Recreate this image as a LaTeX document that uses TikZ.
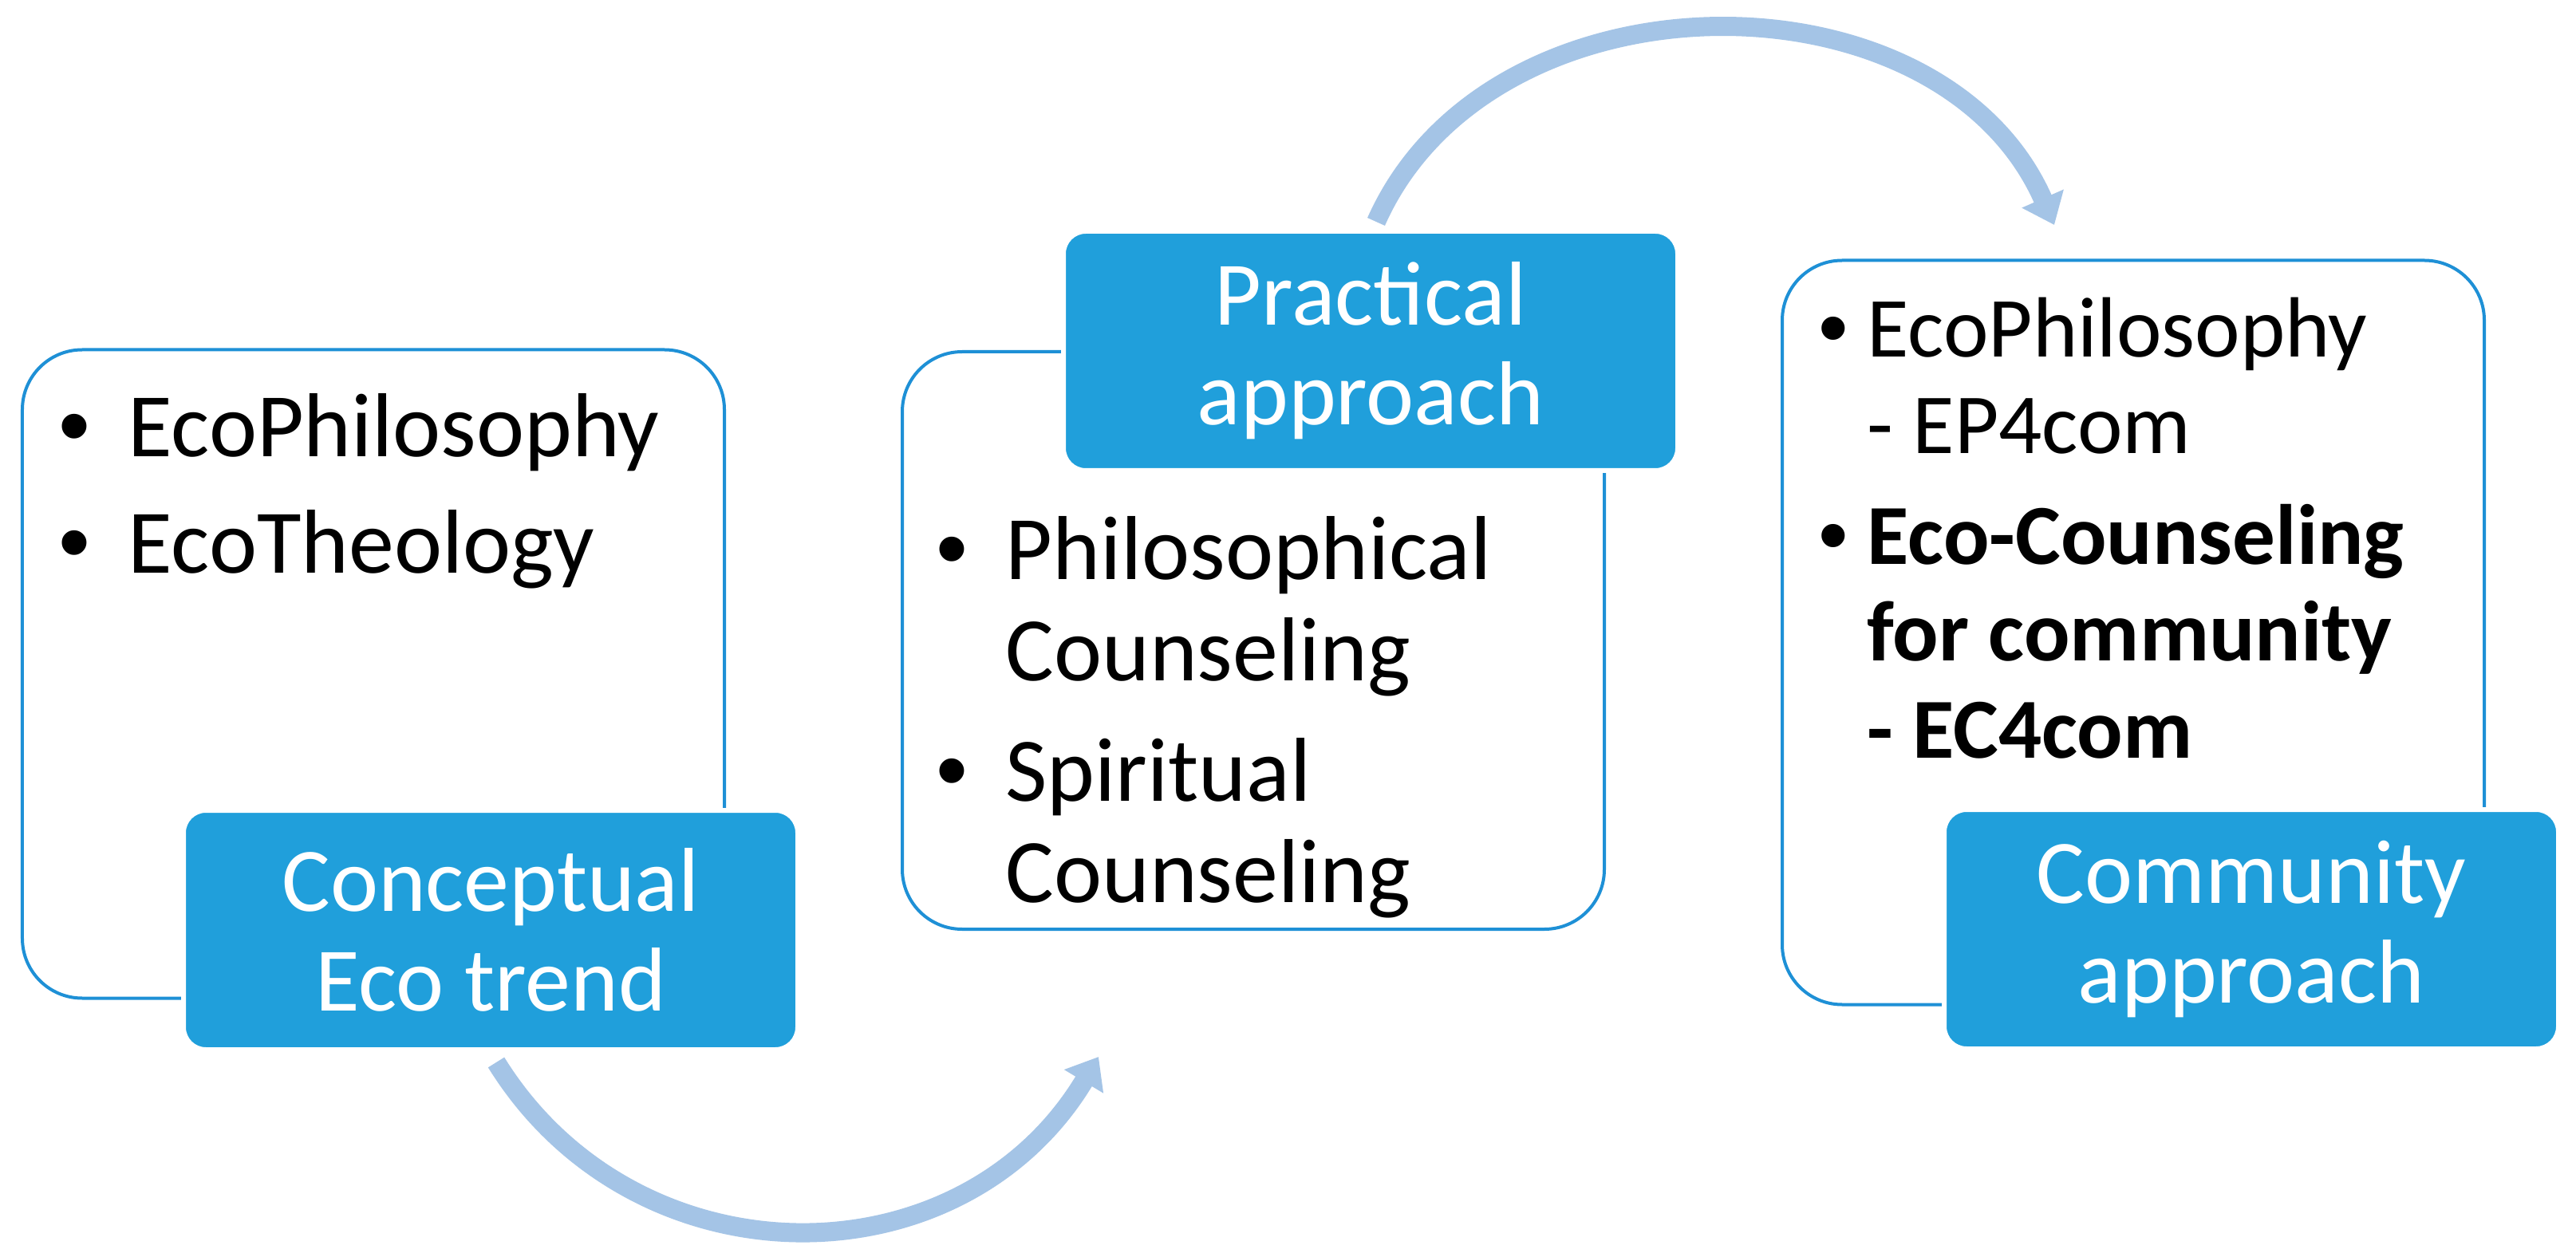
\documentclass[tikz,border=0pt]{standalone}
\usepackage{fontspec}
\setmainfont{Carlito}
\newfontfamily\dotfont{Liberation Sans}
\usepackage{tikz}
\usetikzlibrary{arrows.meta,positioning}
\usepackage{xcolor}
\definecolor{ecoblue}{RGB}{32,159,219}
\definecolor{ecoedge}{RGB}{30,144,214}
\definecolor{ecoarrow}{RGB}{164,196,230}
\tikzstyle{listbox} = [rectangle, rounded corners=0.75cm, minimum width=8.8cm, draw=ecoedge, line width=0.04cm, fill=white]
\tikzstyle{headbox} = [rectangle, rounded corners=0.28cm, minimum width=7.7cm, minimum height=3cm, fill=ecoblue, draw=white, line width=0.06cm, text=white, align=center, font=\fontsize{32.4}{35.5}\selectfont]
\tikzstyle{listtext} = [inner sep=0pt, anchor=base west, font=\fontsize{32.4}{36}\selectfont]
\tikzstyle{flow} = [line width=0.24cm, color=ecoarrow, -{Triangle[width=0.55cm,length=0.36cm]}]
\newcommand{\ecodot}[1][1.35cm]{\makebox[#1][c]{\dotfont\char"2022}}

\begin{document}
\begin{tikzpicture}[node distance=11.03cm]
\path[use as bounding box, fill=white] (0,0) rectangle (32.29,15.75);

% white boxes
\node (trendbox) [listbox, minimum height=8.13cm] at (4.68,7.30) {};
\node (practicebox) [listbox, minimum height=7.24cm, right of=trendbox, yshift=0.42cm] {};
\node (communitybox) [listbox, minimum height=9.33cm, right of=practicebox, yshift=0.1cm] {};

% blue headers
\node (concept) [headbox] at (6.15,4.09) {Conceptual\\Eco trend};
\node (practice) [headbox] at (17.18,11.35) {Practical\\approach};
\node (community) [headbox] at (28.22,4.10) {Community\\approach};

% bullet lists
\node (trendlist) [listtext] at ([xshift=-0.01cm,yshift=-1.36cm]trendbox.north west) {\begin{tabular}[t]{@{}l@{}}
\ecodot EcoPhilosophy\\[5.5pt]
\ecodot EcoTheology
\end{tabular}};
\node (practicelist) [listtext] at ([xshift=-0.04cm,yshift=-2.88cm]practicebox.north west) {\begin{tabular}[t]{@{}l@{}}
\ecodot Philosophical\\
\hspace*{1.35cm}Counseling\\[7pt]
\ecodot Spiritual\\
\hspace*{1.35cm}Counseling
\end{tabular}};
\node (communitylist) [listtext, font=\fontsize{30.5}{34.5}\selectfont] at ([xshift=0.24cm,yshift=-1.23cm]communitybox.north west) {\begin{tabular}[t]{@{}l@{}}
\ecodot[0.84cm]EcoPhilosophy\\
\hspace*{0.84cm}- EP4com\\[5pt]
\ecodot[0.84cm]\textbf{Eco-Counseling}\\
\hspace*{0.84cm}\textbf{for community}\\
\hspace*{0.84cm}\textbf{- EC4com}
\end{tabular}};

% curved arrows
\coordinate (trendtip) at (13.77,2.50);
\coordinate (communitytip) at (25.75,12.93);
\draw[flow] ([xshift=0.07cm,yshift=-0.13cm]concept.south) .. controls (7.96,-0.38) and (12.04,-0.38) .. (trendtip);
\draw[flow] ([xshift=0.07cm,yshift=0.09cm]practice.north) .. controls (18.68,16.19) and (24.32,16.19) .. (communitytip);
\end{tikzpicture}
\end{document}
